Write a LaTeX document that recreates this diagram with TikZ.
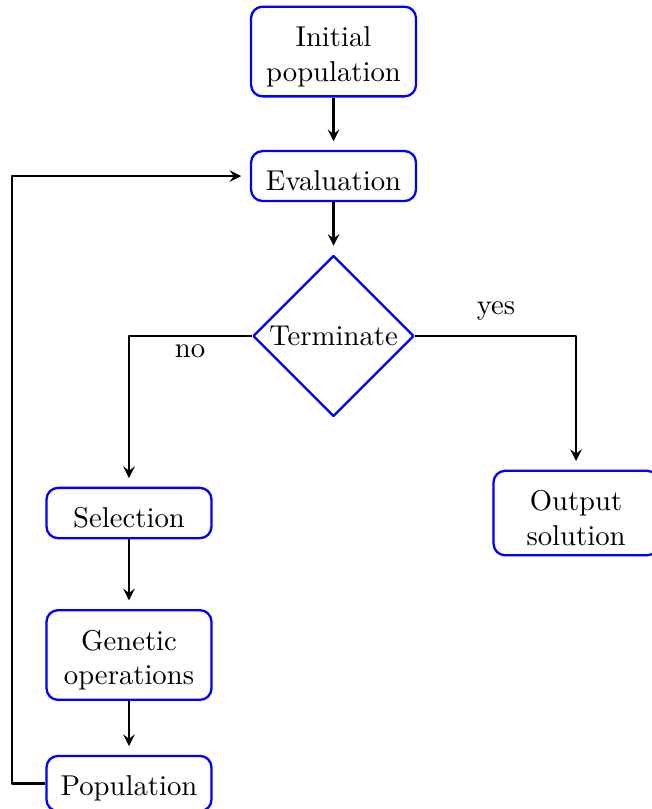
\documentclass[tikz,border=0pt]{standalone}
\usetikzlibrary{shapes.geometric}
\newcommand{\gastrut}{\rule{0pt}{10.5pt}}
\begin{document}
\begin{tikzpicture}[line join=round,>=stealth,
    gabox/.style={draw=blue,thick,rounded corners=4pt,align=center,inner sep=3.4pt,minimum width=2.02cm},
    gadec/.style={draw=blue,thick,diamond,aspect=1,inner sep=1pt,minimum size=1.97cm},
    galine/.style={->,thick,shorten >=3pt}]
                \def\mygaw{7.973}\def\mygah{9.908}
                \def\mygal{1.580}\def\mygam{4.085}\def\mygar{7.055}\def\mygaloop{0.147}
                \useasboundingbox (0,0) rectangle (\mygaw,-\mygah);
                \node[gabox] (ninit) at (\mygam,-0.631) {\gastrut Initial\\population};
                \node[gabox] (neval) at (\mygam,-2.156) {\gastrut Evaluation};
                \node[gadec] (nterm) at (\mygam,-4.115) {Terminate};
                \node[gabox] (nsel) at (\mygal,-6.283) {\gastrut Selection};
                \node[gabox] (ngen) at (\mygal,-8.022) {\gastrut Genetic\\operations};
                \node[gabox] (npop) at (\mygal,-9.596) {\gastrut Population};
                \node[gabox] (nout) at (\mygar,-6.283) {\gastrut Output\\solution};
                \coordinate (nloop) at (\mygaloop,0);
                \path(6.075,-3.809) node (nyes) {yes}(2.327,-4.299) node (nno) {no};
                \draw[galine] (ninit)--(neval);
                \draw[galine] (neval)--(nterm);
                \draw[galine] (nterm.west) -| (nsel.north);
                \draw[galine] (nterm.east) -| (nout.north);
                \draw[galine] (nsel)--(ngen);
                \draw[galine] (ngen)--(npop);
                \draw[galine] (npop.west)--(npop.west -| nloop) |- (neval.west);
            \end{tikzpicture}
\end{document}
